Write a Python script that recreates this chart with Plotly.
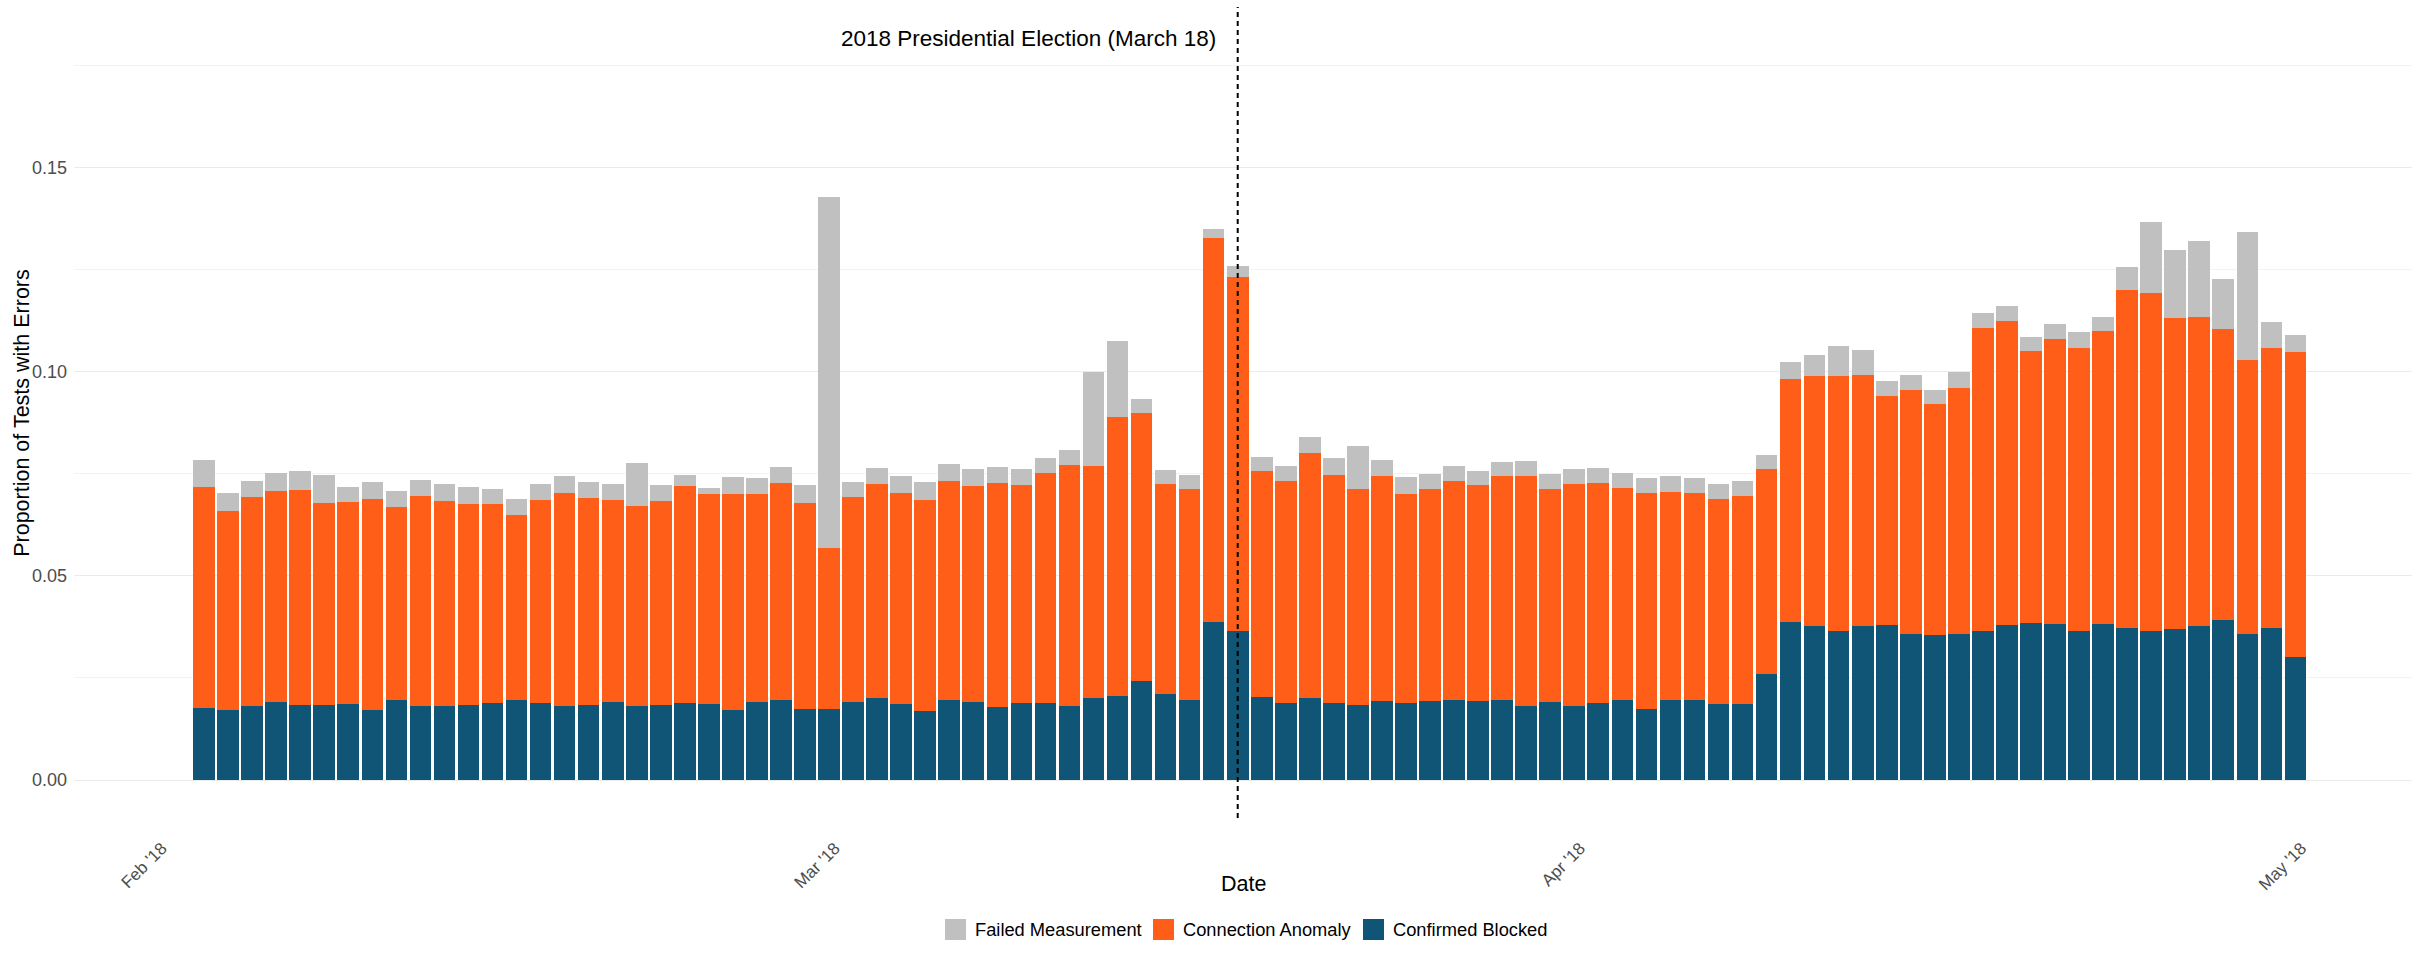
import pandas as pd
import plotly.graph_objects as go

# ---------------- data ----------------
dates = pd.date_range("2018-02-03", "2018-05-01", freq="D")

confirmed_blocked = [
    0.0177, 0.0172, 0.0181, 0.0190, 0.0183, 0.0183, 0.0185, 0.0172, 0.0197, 0.0181,
    0.0181, 0.0183, 0.0188, 0.0197, 0.0188, 0.0181, 0.0183, 0.0190, 0.0181, 0.0183,
    0.0188, 0.0185, 0.0171, 0.0192, 0.0195, 0.0173, 0.0173, 0.0192, 0.0202, 0.0185,
    0.0170, 0.0195, 0.0192, 0.0180, 0.0189, 0.0189, 0.0182, 0.0202, 0.0205, 0.0243,
    0.0210, 0.0195, 0.0388, 0.0366, 0.0204, 0.0188, 0.0200, 0.0188, 0.0183, 0.0193,
    0.0188, 0.0193, 0.0195, 0.0193, 0.0195, 0.0181, 0.0190, 0.0181, 0.0188, 0.0195,
    0.0173, 0.0195, 0.0195, 0.0185, 0.0185, 0.0259, 0.0386, 0.0376, 0.0364, 0.0377,
    0.0380, 0.0358, 0.0356, 0.0358, 0.0365, 0.0380, 0.0385, 0.0383, 0.0365, 0.0383,
    0.0373, 0.0365, 0.0370, 0.0376, 0.0392, 0.0358, 0.0373, 0.0302,
]

connection_anomaly = [
    0.0541, 0.0488, 0.0512, 0.0519, 0.0527, 0.0496, 0.0496, 0.0515, 0.0472, 0.0514,
    0.0502, 0.0494, 0.0487, 0.0451, 0.0498, 0.0523, 0.0507, 0.0495, 0.0490, 0.0500,
    0.0531, 0.0515, 0.0529, 0.0508, 0.0532, 0.0505, 0.0395, 0.0500, 0.0522, 0.0519,
    0.0515, 0.0538, 0.0529, 0.0548, 0.0534, 0.0562, 0.0589, 0.0568, 0.0683, 0.0656,
    0.0515, 0.0518, 0.0940, 0.0867, 0.0553, 0.0544, 0.0602, 0.0560, 0.0530, 0.0551,
    0.0512, 0.0520, 0.0537, 0.0529, 0.0549, 0.0563, 0.0523, 0.0544, 0.0539, 0.0520,
    0.0530, 0.0510, 0.0508, 0.0504, 0.0510, 0.0502, 0.0597, 0.0613, 0.0626, 0.0615,
    0.0561, 0.0596, 0.0565, 0.0601, 0.0743, 0.0743, 0.0665, 0.0698, 0.0694, 0.0716,
    0.0828, 0.0827, 0.0761, 0.0759, 0.0713, 0.0671, 0.0685, 0.0747,
]

failed_measurement = [
    0.0066, 0.0043, 0.0039, 0.0044, 0.0047, 0.0069, 0.0037, 0.0043, 0.0039, 0.0040,
    0.0042, 0.0041, 0.0038, 0.0041, 0.0039, 0.0040, 0.0040, 0.0041, 0.0105, 0.0040,
    0.0029, 0.0014, 0.0041, 0.0040, 0.0039, 0.0044, 0.0860, 0.0039, 0.0041, 0.0040,
    0.0046, 0.0041, 0.0040, 0.0039, 0.0039, 0.0037, 0.0037, 0.0230, 0.0188, 0.0033,
    0.0035, 0.0035, 0.0022, 0.0025, 0.0033, 0.0036, 0.0038, 0.0040, 0.0105, 0.0039,
    0.0041, 0.0036, 0.0038, 0.0034, 0.0036, 0.0037, 0.0036, 0.0036, 0.0037, 0.0036,
    0.0037, 0.0039, 0.0037, 0.0036, 0.0037, 0.0035, 0.0040, 0.0052, 0.0073, 0.0061,
    0.0035, 0.0037, 0.0035, 0.0040, 0.0035, 0.0039, 0.0035, 0.0036, 0.0039, 0.0035,
    0.0056, 0.0174, 0.0166, 0.0184, 0.0121, 0.0313, 0.0063, 0.0041,
]

tick_dates = ["2018-02-01", "2018-03-01", "2018-04-01", "2018-05-01"]
tick_labels = ["Feb '18", "Mar '18", "Apr '18", "May '18"]
y_major_ticks = [0.0, 0.05, 0.10, 0.15]
y_minor_ticks = [0.025, 0.075, 0.125, 0.175]

election_date = "2018-03-18"
election_label = "2018 Presidential Election (March 18)"

series_names = ["Failed Measurement", "Connection Anomaly", "Confirmed Blocked"]
series_colors = ["#C0C0C0", "#FE5E17", "#105575"]

# ---------------- figure ----------------
W, H = 2420, 956
ML, MR, MT, MB = 74, 8, 7, 138
PW, PH = W - ML - MR, H - MT - MB
FONT = "Liberation Sans, Arial, Helvetica, sans-serif"

def px_x(px):
    return (px - ML) / PW

def px_y(py):
    return (H - MB - py) / PH

fig = go.Figure()
stack = [
    (series_names[2], confirmed_blocked, series_colors[2]),
    (series_names[1], connection_anomaly, series_colors[1]),
    (series_names[0], failed_measurement, series_colors[0]),
]
for name, vals, col in stack:
    fig.add_trace(go.Bar(
        x=dates, y=vals, name=name,
        marker=dict(color=col, line=dict(width=0)),
        showlegend=False,
    ))

shapes = [dict(
    type="line", xref="x", yref="paper",
    x0=election_date, x1=election_date, y0=0, y1=1,
    line=dict(color="black", width=2, dash="5px,4px"), layer="above",
)]

annotations = [
    dict(text=election_label, x=election_date, y=0.1816, xref="x", yref="y",
         xanchor="right", yanchor="middle", xshift=-19.5, showarrow=False,
         font=dict(family=FONT, size=22.5, color="black")),
    dict(text="Date", x=0.5, y=0, xref="paper", yref="paper",
         xanchor="center", yanchor="middle", yshift=-66, showarrow=False,
         font=dict(family=FONT, size=21.5, color="black")),
    dict(text="Proportion of Tests with Errors", x=0, y=0.5, xref="paper", yref="paper",
         xanchor="center", yanchor="middle", xshift=-52.7, textangle=-90, showarrow=False,
         font=dict(family=FONT, size=21.5, color="black")),
]

# legend (ggplot-style square keys)
legend_swatch_left = [945, 1153, 1363]
legend_text_left = [973, 1181, 1391]
legend_top, legend_size = 919, 21
for i, (name, col) in enumerate(zip(series_names, series_colors)):
    shapes.append(dict(
        type="rect", xref="paper", yref="paper",
        x0=px_x(legend_swatch_left[i]), x1=px_x(legend_swatch_left[i] + legend_size),
        y0=px_y(legend_top + legend_size), y1=px_y(legend_top),
        fillcolor=col, line=dict(width=0),
    ))
    annotations.append(dict(
        text=name, x=px_x(legend_text_left[i]), y=px_y(legend_top + legend_size / 2),
        xref="paper", yref="paper", xanchor="left", yanchor="middle", showarrow=False,
        font=dict(family=FONT, size=18.3, color="black"),
    ))

fig.update_layout(
    width=W, height=H,
    margin=dict(l=ML, r=MR, t=MT, b=MB, pad=0),
    paper_bgcolor="white", plot_bgcolor="white",
    barmode="stack", bargap=0.1,
    font=dict(family=FONT, color="black"),
    showlegend=False,
    shapes=shapes, annotations=annotations,
    xaxis=dict(
        type="date", range=["2018-01-28 14:10", "2018-05-05 20:24"],
        tickmode="array", tickvals=tick_dates, ticktext=tick_labels,
        tickangle=-45, tickfont=dict(family=FONT, size=17, color="#4D4D4D"),
        showgrid=False, zeroline=False, showline=False, ticks="",
        ticklabelstandoff=16, ticklabelshift=6,
    ),
    yaxis=dict(
        range=[-0.0093, 0.1893],
        tickmode="array", tickvals=y_major_ticks, tickformat=".2f",
        tickfont=dict(family=FONT, size=18, color="#4D4D4D"),
        showgrid=True, gridcolor="#EBEBEB", gridwidth=1.4,
        minor=dict(tickmode="array", tickvals=y_minor_ticks, showgrid=True,
                   gridcolor="#F3F3F3", gridwidth=1),
        zeroline=False, showline=False, ticks="", ticklabelstandoff=6,
    ),
)

fig.write_html("out.html")
